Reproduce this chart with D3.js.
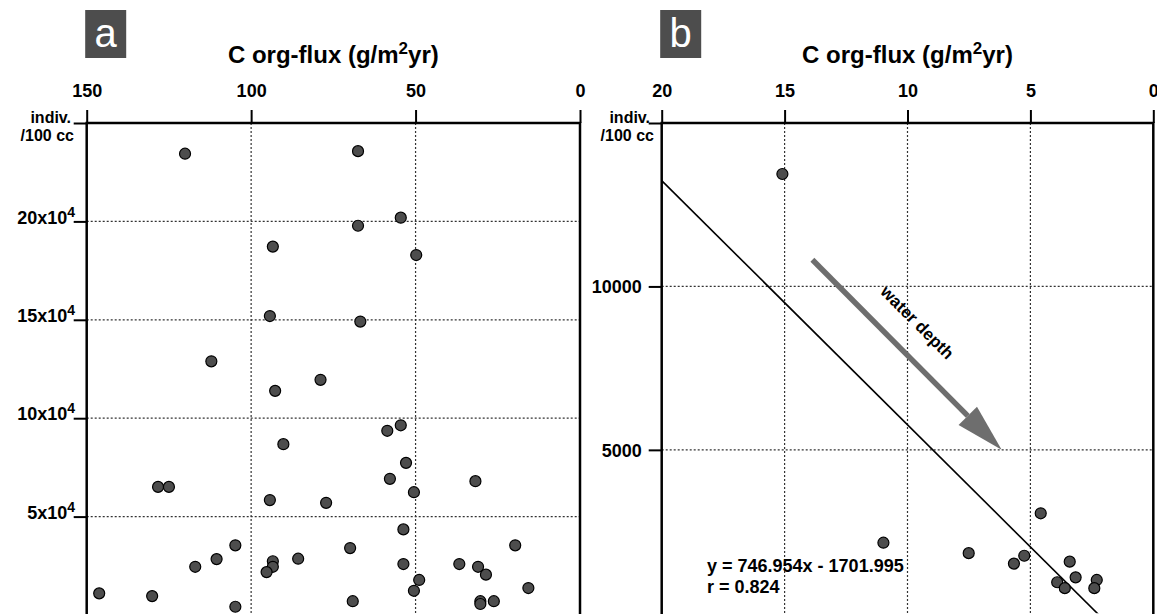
<!DOCTYPE html>
<html lang="en">
<head>
<meta charset="UTF-8">
<title>C org-flux vs. individuals per 100 cc</title>
<script src="https://d3js.org/d3.v7.min.js"></script>
<style>
  body { margin: 0; background: #fff; }
  svg { display: block; font-family: "Liberation Sans", Arial, Helvetica, sans-serif; font-weight: bold; }
</style>
</head>
<body>
<svg id="chart" width="1157" height="614"></svg>
<script>
// panel a: C org-flux (g/m2yr) against indiv./100 cc
const fluxA = [120.1, 67.5, 54.5, 67.5, 93.4, 49.8, 94.3, 66.8, 112.1, 78.9, 92.7, 90.2, 58.6, 54.5, 52.9, 57.8,
  50.5, 31.8, 128.3, 125.0, 94.3, 77.2, 53.7, 104.8, 69.9, 19.7, 110.5, 85.7, 93.4, 93.4, 95.3, 117.0, 53.7, 36.7,
  31.0, 28.6, 48.9, 50.5, 15.7, 146.2, 130.1, 104.8, 69.1, 30.3, 30.3, 26.2];
const indivA = [234400, 235700, 201900, 197800, 187200, 182900, 151900, 149100, 128900, 119500, 113900, 86800,
  93600, 96400, 77300, 69200, 62400, 68000, 65100, 65100, 58400, 57000, 43500, 35400, 34000, 35400, 28400, 28600,
  27300, 24500, 21800, 24500, 25900, 25900, 24500, 20500, 17800, 12300, 13700, 11000, 9600, 4200, 7000, 7000,
  5600, 7000];

// panel b
const fluxB = [15.09, 10.98, 7.51, 5.67, 5.25, 4.58, 3.40, 3.16, 3.91, 3.60, 2.30, 2.40];
const indivB = [13440, 2160, 1840, 1520, 1760, 3060, 1580, 1100, 950, 770, 1020, 770];

const xTicksA = [150, 100, 50, 0];
const yTicksA = [50000, 100000, 150000, 200000, 250000];
const yLabelsA = ["5x10", "10x10", "15x10", "20x10", ""];
const xTicksB = [20, 15, 10, 5, 0];
const yTicksB = [5000, 10000, 15000];
const yLabelsB = ["5000", "10000", ""];

// regression in panel b
const fitSlope = 746.954, fitIntercept = -1701.995, fitR = 0.824;
const arrowFrom = [13.87, 10815], arrowTo = [6.17, 5000];
const arrowLabelAt = [9.61, 8890];

const svg = d3.select("#chart");

function drawPanel(p) {
  const g = svg.append("g");
  const x = d3.scaleLinear().domain(p.xDomain).range([p.left, p.right]);
  const y = d3.scaleLinear().domain(p.yDomain).range([p.bottom, p.top]);
  const clipId = "clip-" + p.name;
  svg.append("clipPath").attr("id", clipId).append("rect")
    .attr("x", p.left).attr("y", p.top)
    .attr("width", p.right - p.left).attr("height", p.bottom - p.top);

  // dotted grid
  const grid = g.append("g").attr("stroke", "#333").attr("stroke-width", 1.2).attr("stroke-dasharray", "2,2");
  grid.selectAll("line.vx")
    .data(p.xTicks.filter(d => d !== p.xDomain[0] && d !== p.xDomain[1]))
    .join("line").attr("class", "vx")
    .attr("x1", d => x(d)).attr("x2", d => x(d)).attr("y1", p.top).attr("y2", p.bottom);
  grid.selectAll("line.hy")
    .data(p.yTicks.filter(d => d !== p.yDomain[1]))
    .join("line").attr("class", "hy")
    .attr("x1", p.left).attr("x2", p.right).attr("y1", d => y(d)).attr("y2", d => y(d));

  // top axis
  const ax = g.append("g").attr("transform", `translate(0,${p.top})`)
    .call(d3.axisTop(x).tickValues(p.xTicks).tickSize(13).tickPadding(13).tickFormat(d3.format("d")));
  ax.attr("font-family", null).attr("font-size", 18);
  ax.select(".domain").remove();
  ax.selectAll("line").attr("stroke", "#000").attr("stroke-width", 2);
  ax.selectAll("text").attr("fill", "#000");

  // left axis
  const ay = g.append("g").attr("transform", `translate(${p.left},0)`)
    .call(d3.axisLeft(y).tickValues(p.yTicks).tickSize(13).tickPadding(p.yPad)
      .tickFormat((d, i) => p.yLabels[i]));
  ay.attr("font-family", null).attr("font-size", 18);
  ay.select(".domain").remove();
  ay.selectAll("line").attr("stroke", "#000").attr("stroke-width", 2);
  ay.selectAll("text").attr("fill", "#000").attr("dy", p.yDy);
  if (p.yExp) {
    ay.selectAll("text").each(function(d, i) {
      if (!p.yLabels[i]) return;
      d3.select(this).append("tspan").attr("dy", -7).attr("font-size", 14).text(p.yExp);
    });
  }

  g.append("text").attr("x", p.indivX[0]).attr("y", 123).attr("text-anchor", "end")
    .attr("font-size", 16).text("indiv.");
  g.append("text").attr("x", p.indivX[1]).attr("y", 141).attr("text-anchor", "end")
    .attr("font-size", 16).text("/100 cc");

  // title
  const t = g.append("text").attr("x", (p.left + p.right) / 2).attr("y", 63)
    .attr("text-anchor", "middle").attr("font-size", 24);
  t.append("tspan").text("C org-flux (g/m");
  t.append("tspan").attr("dy", -9).attr("font-size", 17).text("2");
  t.append("tspan").attr("dy", 9).text("yr)");

  // panel letter
  g.append("rect").attr("x", p.left - 1.5).attr("y", 10).attr("width", 41).attr("height", 48)
    .attr("fill", "#4d4d4d");
  g.append("text").attr("x", p.left + 19).attr("y", 47).attr("text-anchor", "middle")
    .attr("font-size", 40).attr("font-weight", "normal").attr("fill", "#fff").text(p.name);

  const plot = g.append("g").attr("clip-path", `url(#${clipId})`);
  if (p.extra) p.extra(plot, g, x, y);

  plot.selectAll("circle").data(d3.zip(p.flux, p.indiv)).join("circle")
    .attr("cx", d => x(d[0])).attr("cy", d => y(d[1])).attr("r", 5.5)
    .attr("fill", "#4d4d4d").attr("stroke", "#000").attr("stroke-width", 1.2);

  // frame (bottom edge falls outside the picture)
  g.append("rect").attr("x", p.left).attr("y", p.top)
    .attr("width", p.right - p.left).attr("height", p.bottom - p.top + 20)
    .attr("fill", "none").attr("stroke", "#000").attr("stroke-width", 2.5);
}

drawPanel({
  name: "a", left: 86.7, right: 580, top: 123, bottom: 615,
  xDomain: [150, 0], yDomain: [0, 250000],
  xTicks: xTicksA, yTicks: yTicksA, yLabels: yLabelsA, yExp: "4", yPad: -1.3, yDy: "0.09em",
  indivX: [71, 74],
  flux: fluxA, indiv: indivA
});

drawPanel({
  name: "b", left: 661.7, right: 1153.3, top: 123, bottom: 613.3,
  xDomain: [20, 0], yDomain: [0, 15000],
  xTicks: xTicksB, yTicks: yTicksB, yLabels: yLabelsB, yPad: 7, yDy: "0.35em",
  indivX: [650, 654],
  flux: fluxB, indiv: indivB,
  extra: (plot, g, x, y) => {
    // fitted line
    const xs = [20, 0];
    plot.append("line")
      .attr("x1", x(xs[0])).attr("y1", y(fitSlope * xs[0] + fitIntercept))
      .attr("x2", x(xs[1])).attr("y2", y(fitSlope * xs[1] + fitIntercept))
      .attr("stroke", "#000").attr("stroke-width", 1.6);

    // water depth arrow
    const x0 = x(arrowFrom[0]), y0 = y(arrowFrom[1]);
    const x1 = x(arrowTo[0]), y1 = y(arrowTo[1]);
    const len = Math.hypot(x1 - x0, y1 - y0);
    const ux = (x1 - x0) / len, uy = (y1 - y0) / len;
    const headLen = 48, headHalf = 13;
    const bx = x1 - ux * headLen, by = y1 - uy * headLen;
    g.append("line").attr("x1", x0).attr("y1", y0).attr("x2", bx).attr("y2", by)
      .attr("stroke", "#6e6e6e").attr("stroke-width", 5.5);
    g.append("path")
      .attr("d", `M${x1},${y1}L${bx - uy * headHalf},${by + ux * headHalf}L${bx + uy * headHalf},${by - ux * headHalf}Z`)
      .attr("fill", "#6e6e6e");
    const lx = x(arrowLabelAt[0]), ly = y(arrowLabelAt[1]);
    g.append("text").attr("transform", `translate(${lx},${ly}) rotate(45)`)
      .attr("text-anchor", "middle").attr("dominant-baseline", "central")
      .attr("font-size", 17).text("water depth");

    g.append("text").attr("x", 707).attr("y", 572).attr("font-size", 18)
      .text(`y = ${fitSlope}x - ${Math.abs(fitIntercept)}`);
    g.append("text").attr("x", 707).attr("y", 593).attr("font-size", 18)
      .text(`r = ${fitR}`);
  }
});
</script>
</body>
</html>
